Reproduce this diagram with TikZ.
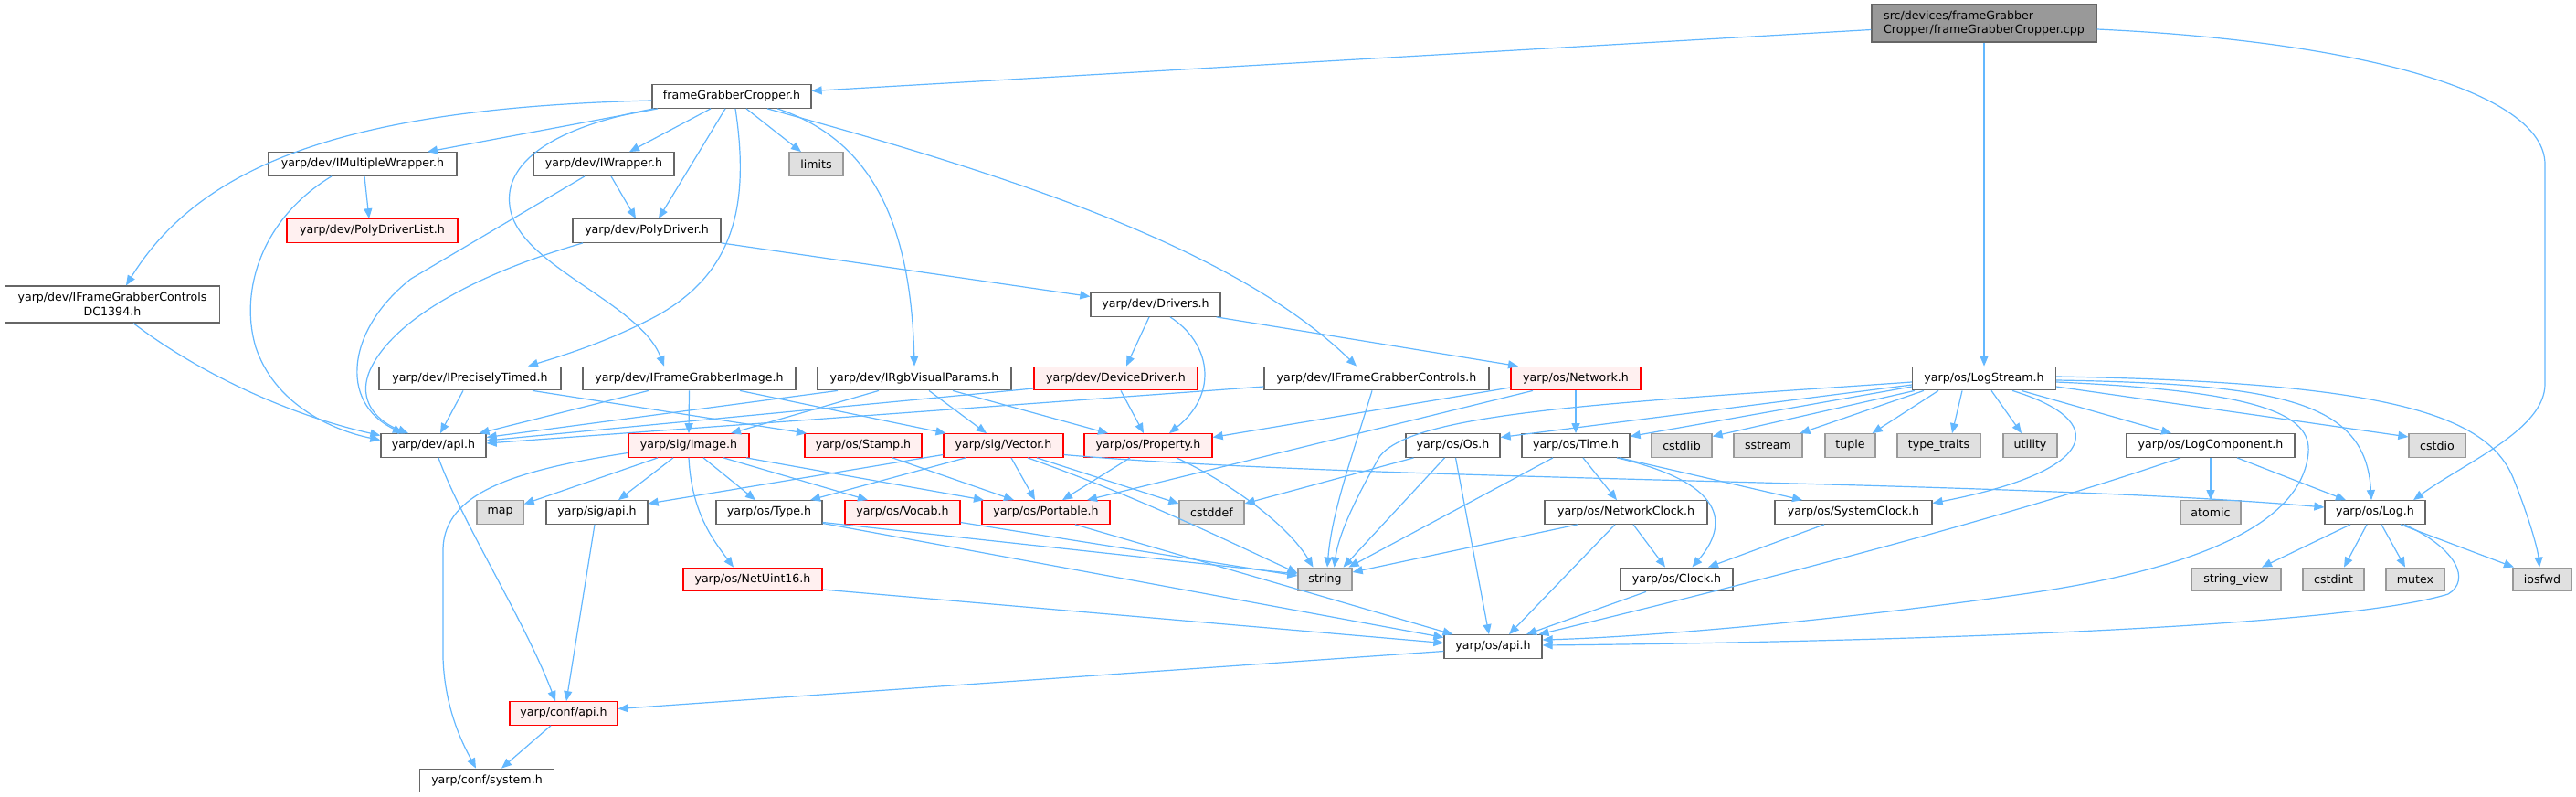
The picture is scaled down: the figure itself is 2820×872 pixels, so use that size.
\documentclass[tikz,border=0pt]{standalone}
\usepackage{fontspec}
\newfontfamily\dvs{DejaVu Sans}
\usetikzlibrary{arrows.meta}
\definecolor{edgec}{HTML}{63B8FF}
\definecolor{ndb}{HTML}{666666}
\definecolor{sysb}{HTML}{999999}
\definecolor{sysf}{HTML}{E0E0E0}
\definecolor{redf}{HTML}{FFF0F0}
\definecolor{redb}{HTML}{FF0000}
\definecolor{rootf}{HTML}{999999}
\tikzset{
  nd/.style={draw=ndb, fill=white, line width=1.3pt, minimum height=25.5pt, inner sep=0pt,
    font=\dvs\fontsize{12.6}{15.5}\selectfont},
  sysnd/.style={nd, draw=sysb, fill=sysf},
  rednd/.style={nd, draw=redb, fill=redf},
  rootnd/.style={nd, draw=ndb, fill=rootf, minimum height=41pt, align=left},
  dep/.style={draw=edgec, line width=1.2pt, -{Triangle[length=11pt,width=9pt]}}
}
\begin{document}
\begin{tikzpicture}[x=1pt,y=-1pt]
\fill[white] (0,0) rectangle (2820,872);
\useasboundingbox (0,0) rectangle (2820,872);
% rank 0-1
\node[rootnd, minimum width=246pt] (cpp) at (2172,25.5) {src/devices/frameGrabber\\Cropper/frameGrabberCropper.cpp};
\node[nd, minimum width=174pt] (fgc) at (801,105.5) {frameGrabberCropper.h};
% rank 2
\node[nd, minimum width=206pt] (imw) at (397,179.5) {yarp/dev/IMultipleWrapper.h};
\node[nd, minimum width=154pt] (iwr) at (661,179.5) {yarp/dev/IWrapper.h};
\node[sysnd, minimum width=59pt] (limits) at (893.5,179.5) {limits};
% rank 3
\node[rednd, minimum width=187pt] (pdl) at (407.5,252.5) {yarp/dev/PolyDriverList.h};
\node[nd, minimum width=162pt] (pd) at (708,252.5) {yarp/dev/PolyDriver.h};
% rank 4
\node[nd, minimum width=235pt, minimum height=40pt, align=center] (dc) at (123,333) {yarp/dev/IFrameGrabberControls\\DC1394.h};
\node[nd, minimum width=142pt] (drv) at (1265,333.5) {yarp/dev/Drivers.h};
% rank 5
\node[nd, minimum width=199pt] (ipt) at (514.5,414) {yarp/dev/IPreciselyTimed.h};
\node[nd, minimum width=233pt] (ifgi) at (754.5,414) {yarp/dev/IFrameGrabberImage.h};
\node[nd, minimum width=212pt] (irgb) at (1001,414) {yarp/dev/IRgbVisualParams.h};
\node[rednd, minimum width=179pt] (ddrv) at (1221.5,414) {yarp/dev/DeviceDriver.h};
\node[nd, minimum width=246pt] (ifgc) at (1507,414) {yarp/dev/IFrameGrabberControls.h};
\node[rednd, minimum width=142pt] (net) at (1725,414) {yarp/os/Network.h};
\node[nd, minimum width=157pt] (ls) at (2172,414) {yarp/os/LogStream.h};
% rank 6
\node[nd, minimum width=115pt] (devapi) at (474.5,487.5) {yarp/dev/api.h};
\node[rednd, minimum width=132pt] (img) at (754,487.5) {yarp/sig/Image.h};
\node[rednd, minimum width=128pt] (stamp) at (945,487.5) {yarp/os/Stamp.h};
\node[rednd, minimum width=131pt] (vec) at (1098.5,487.5) {yarp/sig/Vector.h};
\node[rednd, minimum width=140pt] (prop) at (1257,487.5) {yarp/os/Property.h};
\node[nd, minimum width=103pt] (os) at (1590.5,487.5) {yarp/os/Os.h};
\node[nd, minimum width=118pt] (time) at (1725,487.5) {yarp/os/Time.h};
\node[sysnd, minimum width=66pt] (cstdlib) at (1841,487.5) {cstdlib};
\node[sysnd, minimum width=75pt] (sstream) at (1935.5,487.5) {sstream};
\node[sysnd, minimum width=55pt] (tuple) at (2025.5,487.5) {tuple};
\node[sysnd, minimum width=91pt] (ttraits) at (2122.5,487.5) {type\_traits};
\node[sysnd, minimum width=59pt] (utility) at (2222.5,487.5) {utility};
\node[nd, minimum width=184pt] (logcomp) at (2420,487.5) {yarp/os/LogComponent.h};
\node[sysnd, minimum width=62pt] (cstdio) at (2668,487.5) {cstdio};
% rank 7
\node[sysnd, minimum width=51pt] (map) at (547.5,560.5) {map};
\node[nd, minimum width=111pt] (sigapi) at (653.5,560.5) {yarp/sig/api.h};
\node[nd, minimum width=116pt] (type) at (842,560.5) {yarp/os/Type.h};
\node[rednd, minimum width=126pt] (vocab) at (988,560.5) {yarp/os/Vocab.h};
\node[rednd, minimum width=140pt] (portable) at (1145,560.5) {yarp/os/Portable.h};
\node[sysnd, minimum width=71pt] (cstddef) at (1326.5,560.5) {cstddef};
\node[nd, minimum width=178pt] (netclock) at (1780,560.5) {yarp/os/NetworkClock.h};
\node[nd, minimum width=172pt] (sysclock) at (2029,560.5) {yarp/os/SystemClock.h};
\node[sysnd, minimum width=66pt] (atomic) at (2420,560.5) {atomic};
\node[nd, minimum width=110pt] (log) at (2600,560.5) {yarp/os/Log.h};
% rank 8
\node[sysnd, minimum width=59pt] (string) at (1450.5,634) {string};
\node[rednd, minimum width=152pt] (netuint) at (824,634) {yarp/os/NetUint16.h};
\node[nd, minimum width=123pt] (clock) at (1835.5,634) {yarp/os/Clock.h};
\node[sysnd, minimum width=98pt] (strview) at (2448,634) {string\_view};
\node[sysnd, minimum width=67pt] (cstdint) at (2554.5,634) {cstdint};
\node[sysnd, minimum width=64pt] (mutex) at (2644,634) {mutex};
\node[sysnd, minimum width=64pt] (iosfwd) at (2783,634) {iosfwd};
% rank 9-11
\node[nd, minimum width=107pt] (osapi) at (1634.5,707.5) {yarp/os/api.h};
\node[rednd, minimum width=118pt] (confapi) at (617,780.5) {yarp/conf/api.h};
\node[nd, minimum width=147pt] (confsys) at (533,854) {yarp/conf/system.h};

% ---- edges ----
% root
\draw[dep] ([yshift=-7pt]cpp.west) -- ([yshift=6pt]fgc.east);
\draw[dep] (cpp.south) -- (ls.north);
\draw[dep] ([yshift=-6.5pt]cpp.east) .. controls (2580,45) and (2786,100) .. (2786,180) -- (2786,420) .. controls (2786,470) and (2700,505) .. ([xshift=42pt]log.north);
% frameGrabberCropper.h
\draw[dep] ([yshift=-4.5pt]fgc.west) .. controls (380,118) and (220,180) .. ([xshift=15pt]dc.north);
\draw[dep] ([xshift=-81pt]fgc.south) -- ([xshift=71pt]imw.north);
\draw[dep] ([xshift=-85pt]fgc.south) .. controls (600,140) and (552,180) .. (558,225) .. controls (565,290) and (700,330) .. ([xshift=-27.5pt]ifgi.north);
\draw[dep] ([xshift=-23pt]fgc.south) -- ([xshift=28pt]iwr.north);
\draw[dep] ([xshift=-7pt]fgc.south) -- ([xshift=13pt]pd.north);
\draw[dep] ([xshift=4pt]fgc.south) .. controls (822,230) and (800,300) .. (720,345) .. controls (670,372) and (620,388) .. ([xshift=63.5pt]ipt.north);
\draw[dep] ([xshift=16pt]fgc.south) -- ([xshift=-16.5pt]limits.north);
\draw[dep] ([xshift=39pt]fgc.south) .. controls (1100,190) and (1350,270) .. ([xshift=-22pt]ifgc.north);
\draw[dep] ([xshift=50pt]fgc.south) .. controls (945,150) and (997,230) .. (irgb.north);
% rank 2-4
\draw[dep] ([xshift=2pt]imw.south) -- ([xshift=-3.5pt]pdl.north);
\draw[dep] ([xshift=-34pt]imw.south) .. controls (285,240) and (262,320) .. (280,380) .. controls (300,440) and (360,470) .. ([yshift=6pt]devapi.west);
\draw[dep] ([xshift=23pt]dc.south) .. controls (220,410) and (320,455) .. ([yshift=11pt]devapi.west);
\draw[dep] ([xshift=8pt]iwr.south) -- ([xshift=-12pt]pd.north);
\draw[dep] ([xshift=-21pt]iwr.south) -- (450,305) .. controls (380,360) and (370,440) .. ([xshift=-33.5pt]devapi.north);
\draw[dep] ([xshift=-70pt]pd.south) .. controls (520,300) and (430,350) .. (405,405) .. controls (390,440) and (415,462) .. ([xshift=-27.5pt]devapi.north);
\draw[dep] (pd.south east) -- ([yshift=9pt]drv.west);
\draw[dep] ([xshift=-7pt]drv.south) -- ([xshift=11.5pt]ddrv.north);
\draw[dep] ([xshift=16pt]drv.south) .. controls (1325,375) and (1335,430) .. ([xshift=23pt]prop.north);
\draw[dep] ([xshift=-5pt]drv.south east) -- ([xshift=-63pt]net.north);
% rank 5
\draw[dep] ([xshift=-7.5pt]ipt.south) -- ([xshift=7.5pt]devapi.north);
\draw[dep] ([xshift=68.5pt]ipt.south) -- ([xshift=-62pt]stamp.north);
\draw[dep] ([xshift=-44.5pt]ifgi.south) -- ([xshift=50pt]devapi.north);
\draw[dep] (ifgi.south) -- (img.north);
\draw[dep] ([xshift=55.5pt]ifgi.south) -- ([xshift=-63pt]vec.north);
\draw[dep] ([xshift=-84pt]irgb.south) -- ([yshift=9pt]devapi.east);
\draw[dep] ([xshift=-39pt]irgb.south) -- ([xshift=46pt]img.north);
\draw[dep] ([xshift=16pt]irgb.south) -- ([xshift=-18.5pt]vec.north);
\draw[dep] ([xshift=42pt]irgb.south) -- ([xshift=-44pt]prop.north);
\draw[dep] ([yshift=-11pt]ddrv.west) -- ([yshift=5.5pt]devapi.east);
\draw[dep] ([xshift=5.5pt]ddrv.south) -- ([xshift=-5pt]prop.north);
\draw[dep] ([yshift=-9pt]ifgc.west) -- ([yshift=2.5pt]devapi.east);
\draw[dep] ([xshift=-5pt]ifgc.south) .. controls (1480,500) and (1458,560) .. ([xshift=2.5pt]string.north);
\draw[dep] ([yshift=-10pt]net.west) -- ([yshift=9pt]prop.east);
\draw[dep] ([xshift=-47pt]net.south) -- ([xshift=45pt]portable.north);
\draw[dep] (net.south) -- (time.north);
% LogStream
\draw[dep] ([yshift=-4pt]ls.west) .. controls (1780,440) and (1545,450) .. (1510,500) .. controls (1490,535) and (1466,580) .. ([xshift=10pt]string.north);
\draw[dep] ([yshift=-7pt]ls.west) -- ([yshift=9pt]os.east);
\draw[dep] ([yshift=-9pt]ls.west) -- ([yshift=10pt]time.east);
\draw[dep] ([xshift=-76pt]ls.south) -- ([yshift=10pt]cstdlib.east);
\draw[dep] ([xshift=-66pt]ls.south) -- ([xshift=35pt]sstream.north);
\draw[dep] ([xshift=-50pt]ls.south) -- ([xshift=24pt]tuple.north);
\draw[dep] ([xshift=-24pt]ls.south) -- ([xshift=14.5pt]ttraits.north);
\draw[dep] ([xshift=8pt]ls.south) -- ([xshift=-9.5pt]utility.north);
\draw[dep] ([xshift=31pt]ls.south) .. controls (2310,460) and (2300,515) .. ([yshift=10pt]sysclock.east);
\draw[dep] ([xshift=41pt]ls.south) -- ([xshift=-43pt]logcomp.north);
\draw[dep] ([yshift=-4pt]ls.east) .. controls (2480,428) and (2530,455) .. (2527,495) .. controls (2520,575) and (2400,625) .. (2200,652) .. controls (2000,680) and (1800,697) .. ([yshift=7.5pt]osapi.east);
\draw[dep] ([yshift=-2pt]ls.east) .. controls (2500,420) and (2590,440) .. ([xshift=-4pt]log.north);
\draw[dep] ([yshift=-9pt]ls.east) -- ([yshift=9.5pt]cstdio.west);
\draw[dep] ([yshift=2pt]ls.east) .. controls (2620,418) and (2725,455) .. (2752,525) .. controls (2768,565) and (2778,600) .. ([xshift=-3pt]iosfwd.north);
% LogComponent / Log
\draw[dep] (logcomp.south) -- (atomic.north);
\draw[dep] ([xshift=29pt]logcomp.south) -- ([xshift=-32pt]log.north);
\draw[dep] ([xshift=-33pt]logcomp.south) .. controls (2200,565) and (1950,630) .. ([xshift=50pt]osapi.north);
\draw[dep] ([xshift=-27pt]log.south) -- ([xshift=28pt]strview.north);
\draw[dep] ([xshift=-9pt]log.south) -- ([xshift=11.5pt]cstdint.north);
\draw[dep] ([xshift=7pt]log.south) -- ([xshift=-11pt]mutex.north);
\draw[dep] ([xshift=28pt]log.south) -- ([xshift=-31pt]iosfwd.north);
\draw[dep] ([xshift=32pt]log.south) .. controls (2690,600) and (2705,635) .. (2680,650) .. controls (2550,690) and (2000,703) .. ([yshift=1.5pt]osapi.east);
% Vector
\draw[dep] ([yshift=-10pt]vec.east) .. controls (1500,527) and (2200,525) .. ([yshift=5.5pt]log.west);
\draw[dep] ([yshift=-10pt]vec.west) -- ([yshift=9.5pt]sigapi.east);
\draw[dep] ([xshift=-41.5pt]vec.south) -- ([xshift=45pt]type.north);
\draw[dep] ([xshift=8.5pt]vec.south) -- ([xshift=-12pt]portable.north);
\draw[dep] ([xshift=36.5pt]vec.south) -- ([yshift=9.5pt]cstddef.west);
\draw[dep] ([xshift=26.5pt]vec.south) .. controls (1250,545) and (1350,595) .. ([yshift=7pt]string.west);
% Property
\draw[dep] ([xshift=-20pt]prop.south) -- ([xshift=18pt]portable.north);
\draw[dep] ([xshift=31pt]prop.south) .. controls (1350,530) and (1410,575) .. ([xshift=-13pt]string.north);
% Image
\draw[dep] ([xshift=-34pt]img.south) -- ([yshift=9pt]map.east);
\draw[dep] ([yshift=-8pt]img.west) .. controls (560,515) and (487,540) .. (485,600) -- (485,720) .. controls (487,780) and (510,820) .. ([xshift=-12pt]confsys.north);
\draw[dep] ([xshift=-17pt]img.south) -- ([xshift=23.5pt]sigapi.north);
\draw[dep] (img.south) .. controls (757,560) and (780,590) .. ([xshift=-21pt]netuint.north);
\draw[dep] ([xshift=16pt]img.south) -- ([xshift=-15pt]type.north);
\draw[dep] ([xshift=38pt]img.south) -- ([xshift=-38pt]vocab.north);
\draw[dep] ([xshift=63pt]img.south) -- ([xshift=-68pt]portable.north);
\draw[dep] ([xshift=32pt]stamp.south) -- ([xshift=-35pt]portable.north);
% api chain
\draw[dep] ([xshift=-2.5pt]sigapi.south) -- ([xshift=3pt]confapi.north);
\draw[dep] ([xshift=5.5pt]devapi.south) .. controls (505,570) and (575,680) .. ([xshift=-9pt]confapi.north);
\draw[dep] ([xshift=-14pt]confapi.south) -- ([xshift=16pt]confsys.north);
\draw[dep] ([yshift=-5pt]osapi.west) -- ([yshift=5pt]confapi.east);
% rank 7 -> lower
\draw[dep] ([yshift=-11pt]type.east) -- ([yshift=6pt]string.west);
\draw[dep] ([yshift=-12pt]type.east) -- ([yshift=10pt]osapi.west);
\draw[dep] ([yshift=-11pt]vocab.east) -- ([yshift=4pt]string.west);
\draw[dep] ([xshift=32pt]portable.south) -- ([xshift=-44pt]osapi.north);
\draw[dep] ([yshift=-11pt]netuint.east) -- ([yshift=4pt]osapi.west);
% Os / Time
\draw[dep] ([xshift=-43pt]os.south) -- ([yshift=9.5pt]cstddef.east);
\draw[dep] ([xshift=-9pt]os.south) -- ([xshift=20pt]string.north);
\draw[dep] ([xshift=3pt]os.south) -- ([xshift=-4.5pt]osapi.north);
\draw[dep] ([xshift=-25pt]time.south) -- ([xshift=26pt]string.north);
\draw[dep] ([xshift=8pt]time.south) -- ([xshift=-10pt]netclock.north);
\draw[dep] ([xshift=45pt]time.south) .. controls (1875,525) and (1900,565) .. ([xshift=17pt]clock.north);
\draw[dep] ([xshift=48pt]time.south) -- ([xshift=-56pt]sysclock.north);
\draw[dep] ([xshift=-53pt]netclock.south) -- ([yshift=8pt]string.east);
\draw[dep] ([xshift=-12pt]netclock.south) -- ([xshift=17.5pt]osapi.north);
\draw[dep] ([xshift=8pt]netclock.south) -- ([xshift=-12.5pt]clock.north);
\draw[dep] ([xshift=-32pt]sysclock.south) -- ([xshift=34.5pt]clock.north);
\draw[dep] ([xshift=-33.5pt]clock.south) -- ([xshift=36.5pt]osapi.north);
\end{tikzpicture}
\end{document}
